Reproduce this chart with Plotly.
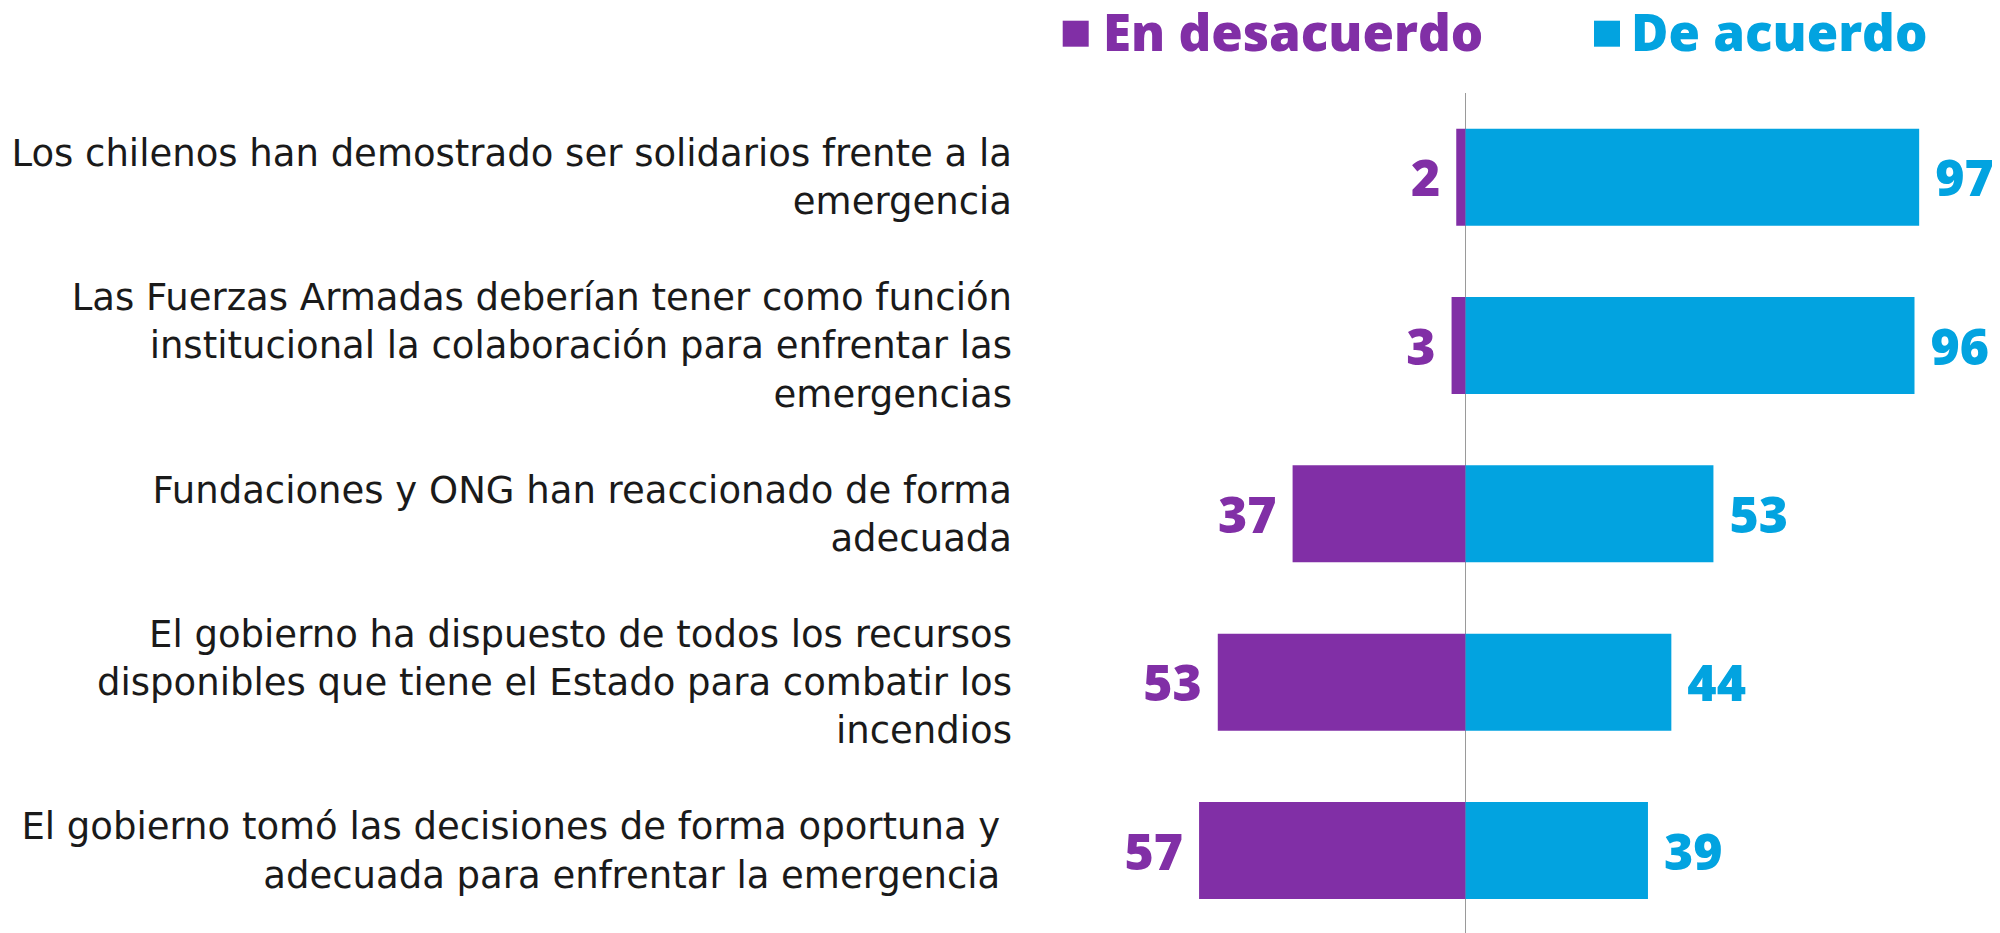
import plotly.graph_objects as go

# ---------------- data ----------------
categories = [
    "Los chilenos han demostrado ser solidarios frente a la<br>emergencia",
    "Las Fuerzas Armadas deberían tener como función<br>institucional la colaboración para enfrentar las<br>emergencias",
    "Fundaciones y ONG han reaccionado de forma<br>adecuada",
    "El gobierno ha dispuesto de todos los recursos<br>disponibles que tiene el Estado para combatir los<br>incendios",
    "El gobierno tomó las decisiones de forma oportuna y\u00a0<br>adecuada para enfrentar la emergencia\u00a0",
]
desacuerdo = [2, 3, 37, 53, 57]
de_acuerdo = [97, 96, 53, 44, 39]
series_names = ["En desacuerdo", "De acuerdo"]

# ---------------- style ----------------
PURPLE = "#812FA6"
BLUE = "#02A3E0"
OFF = 8                      # page body margin of the html page
W, H = 2000 - OFF, 933 - OFF
L, R, T, B = 1005, 0, 85, 0
ZERO_PX = 1465.6 - OFF
PX_PER_UNIT = 4.676
PW, PH = W - L - R, H - T - B

def px_x(px):
    return (px - OFF - L) / PW

def px_y(py):
    return (H - B - (py - OFF)) / PH

NB = "\u00a0"
val_font = dict(family="Open Sans", size=50, weight=800)

fig = go.Figure()
fig.add_trace(go.Bar(
    y=categories, x=[-v for v in desacuerdo], orientation="h",
    name=series_names[0], marker=dict(color=PURPLE, line=dict(width=0)),
    text=[f"{v}{NB}" for v in desacuerdo], textposition="outside",
    constraintext="none", cliponaxis=False,
    textfont=dict(color=PURPLE, **val_font), hoverinfo="skip",
))
fig.add_trace(go.Bar(
    y=categories, x=de_acuerdo, orientation="h",
    name=series_names[1], marker=dict(color=BLUE, line=dict(width=0)),
    text=[f"{NB}{v}" for v in de_acuerdo], textposition="outside",
    constraintext="none", cliponaxis=False,
    textfont=dict(color=BLUE, **val_font), hoverinfo="skip",
))

x_left = -(ZERO_PX - L) / PX_PER_UNIT
x_right = (W - R - ZERO_PX) / PX_PER_UNIT

shapes = []
annotations = []
legend_items = [
    (series_names[0], PURPLE, 1062.7, 1101),
    (series_names[1], BLUE, 1594, 1629),
]
for name, col, sq_x, tx in legend_items:
    shapes.append(dict(type="rect", xref="paper", yref="paper",
                       x0=px_x(sq_x), x1=px_x(sq_x + 26),
                       y0=px_y(46.7), y1=px_y(20.7),
                       fillcolor=col, line=dict(width=0)))
    annotations.append(dict(text=name, xref="paper", yref="paper",
                            x=px_x(tx), y=px_y(30.5), xanchor="left", yanchor="middle",
                            showarrow=False,
                            font=dict(family="Open Sans", size=51, weight=800, color=col)))

fig.update_layout(
    width=W, height=H,
    margin=dict(l=L, r=R, t=T, b=B, pad=0),
    paper_bgcolor="white", plot_bgcolor="white",
    barmode="overlay", bargap=0.424,
    showlegend=False,
    shapes=shapes, annotations=annotations,
    xaxis=dict(range=[x_left, x_right], showticklabels=False, showgrid=False,
               zeroline=True, zerolinecolor="#9a9a9a", zerolinewidth=1,
               showline=False, ticks="", fixedrange=True),
    yaxis=dict(type="category", categoryorder="array", categoryarray=categories,
               range=[4.49, -0.5], showgrid=False, zeroline=False, showline=False,
               ticks="", tickfont=dict(family="DejaVu Sans", size=37, color="#1a1a1a"),
               fixedrange=True),
)

fig.write_html("out.html")
